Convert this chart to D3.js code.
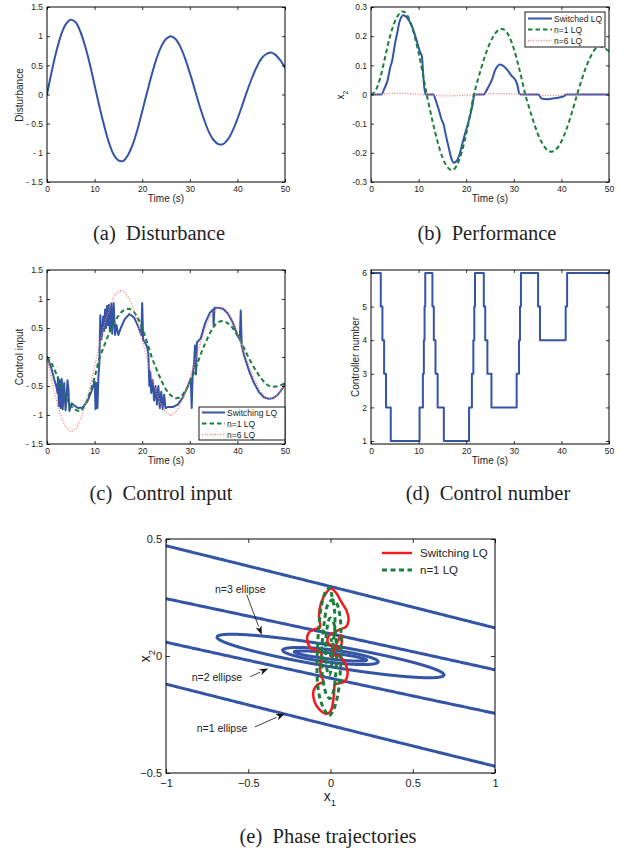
<!DOCTYPE html>
<html><head><meta charset="utf-8">
<script src="https://cdn.jsdelivr.net/npm/d3@7"></script>
<style>body{margin:0;background:#fff} svg{display:block;background:#fff}</style>
</head><body>
<svg id="fig" width="624" height="854"></svg>
<script>
// ---------------- DATA ----------------
// (a) Disturbance
const aTime = [0,1,2,3,4,5,6,7,8,9,10,11,12,13,14,15,16,17,18,19,20,21,22,23,24,25,26,27,28,29,30,31,32,33,34,35,36,37,38,39,40,41,42,43,44,45,46,47,48,49,50];
const aDisturbance = [0,0.40,0.75,1.03,1.21,1.28,1.24,1.08,0.83,0.52,0.16,-0.20,-0.53,-0.82,-1.03,-1.13,-1.14,-1.04,-0.86,-0.60,-0.29,0.03,0.34,0.61,0.82,0.95,1.00,0.95,0.82,0.62,0.37,0.10,-0.18,-0.43,-0.64,-0.78,-0.85,-0.85,-0.77,-0.62,-0.42,-0.19,0.05,0.27,0.46,0.61,0.69,0.72,0.68,0.59,0.46];

// (b) Performance x2
const bSwT = [0,2.2,2.8,3.5,4,4.5,5,5.5,6,6.8,7.5,8.6,9.5,10.2,10.7,11.0,11.4,13.1,13.6,14.2,14.8,15.3,15.6,16.3,16.9,17.4,18.0,18.6,19.4,20.2,21.0,21.4,21.7,23.7,24.3,24.8,25.4,26.0,26.6,27.2,27.9,28.6,29.5,30.3,30.8,31.1,31.4,35.2,35.8,37,38.5,39.5,40.5,41,50];
const bSwV = [0,0,0.02,0.05,0.09,0.12,0.17,0.21,0.25,0.272,0.265,0.234,0.19,0.15,0.13,0.06,0,0,-0.02,-0.05,-0.085,-0.105,-0.13,-0.18,-0.22,-0.234,-0.228,-0.205,-0.155,-0.11,-0.06,-0.03,0,0,0.015,0.03,0.05,0.08,0.097,0.103,0.097,0.085,0.065,0.05,0.03,0.005,0,0,-0.014,-0.016,-0.013,-0.01,-0.006,0,0];
const bN1T = [0,1,2,3,4,5,6,6.6,7,8,9,10,11,11.7,12,13,14,15,16,17,18,19,20,21,21.6,22,23,24,25,26,27,27.5,28,29,30,31,32,32.4,33,34,35,36,37,37.9,39,40,41,42,43,43.3,44,45,46,47,48,49,50];
const bN1V = [0,0.015,0.06,0.13,0.2,0.25,0.278,0.285,0.283,0.259,0.21,0.143,0.061,0,-0.023,-0.097,-0.163,-0.215,-0.248,-0.259,-0.244,-0.201,-0.135,-0.053,0,0.024,0.082,0.134,0.177,0.207,0.223,0.225,0.222,0.2,0.157,0.098,0.029,0,-0.033,-0.086,-0.133,-0.168,-0.19,-0.196,-0.186,-0.161,-0.122,-0.073,-0.017,0,0.037,0.086,0.126,0.154,0.166,0.16,0.148];
const bN6T = [0,3,6,9,12,15,18,21,24,27,30,33,36,39,42,45,48,50];
const bN6V = [0,0.003,0.004,0.002,-0.002,-0.005,-0.004,-0.001,0.002,0.003,0.002,-0.001,-0.003,-0.003,0,0.002,0.002,0.001];

// (c) Control input
const cSwT = [0,0.5,1,1.5,2,2.2,2.3,2.5,2.7,2.9,3.1,3.3,3.6,3.9,4.1,4.3,4.5,4.7,5.2,5.8,6.5,7.5,8.5,9.3,10,10.2,10.4,10.6,10.8,11.0,11.2,11.4,11.6,11.8,12.0,12.2,12.4,12.6,12.8,13.0,13.2,13.5,13.7,14.0,14.3,14.6,15.0,15.5,16.3,17.3,18.3,19.2,19.8,20.0,20.2,20.6,21.0,21.3,21.5,21.7,21.9,22.2,22.5,22.8,23.1,23.4,23.7,24.0,24.3,24.6,24.9,25.5,26.5,27.5,28.5,29.5,30.2,30.4,30.6,30.9,31.1,31.3,31.5,32.3,33.2,34.2,34.9,35.0,35.2,36,37,38,39,40,40.5,40.7,40.9,41.5,42.5,43.5,44.5,45.5,46.5,47.5,48.5,49.3,50];
const cSwV = [0,-0.1,-0.22,-0.38,-0.52,-0.62,-0.35,-0.85,-0.4,-0.88,-0.38,-0.9,-0.45,-0.92,-0.7,-0.4,-0.55,-0.93,-0.8,-0.84,-0.88,-0.87,-0.76,-0.6,-0.42,-0.9,-0.45,-0.88,-0.35,-0.1,0.72,0.3,0.4,0.7,0.45,0.82,0.5,0.88,0.55,0.9,0.45,0.92,0.4,0.93,0.38,0.55,0.38,0.5,0.65,0.74,0.68,0.52,0.38,0.93,0.3,0.25,0.18,0.05,-0.5,-0.25,-0.62,-0.4,-0.75,-0.5,-0.82,-0.5,-0.88,-0.6,-0.9,-0.65,-0.88,-0.86,-0.86,-0.82,-0.7,-0.52,-0.37,-0.88,-0.3,-0.1,0.2,-0.3,0.25,0.32,0.58,0.76,0.82,0.55,0.85,0.85,0.83,0.75,0.6,0.38,0.3,0.8,0.2,0.0,-0.25,-0.45,-0.6,-0.69,-0.72,-0.71,-0.65,-0.56,-0.47];
const cN1T = aTime;
const cN1V = [0,-0.12,-0.3,-0.5,-0.7,-0.84,-0.91,-0.93,-0.82,-0.62,-0.35,-0.03,0.19,0.40,0.57,0.71,0.80,0.83,0.80,0.68,0.50,0.26,0.0,-0.21,-0.40,-0.56,-0.66,-0.71,-0.69,-0.59,-0.44,-0.25,-0.02,0.19,0.37,0.52,0.60,0.62,0.58,0.50,0.37,0.22,0.05,-0.11,-0.25,-0.37,-0.46,-0.51,-0.51,-0.49,-0.45];
const cN6T = aTime;
const cN6V = [0,-0.40,-0.75,-1.03,-1.21,-1.28,-1.24,-1.08,-0.83,-0.52,-0.16,0.20,0.53,0.82,1.03,1.13,1.14,1.04,0.86,0.60,0.29,-0.03,-0.34,-0.61,-0.82,-0.95,-1.00,-0.95,-0.82,-0.62,-0.37,-0.10,0.18,0.43,0.64,0.78,0.85,0.85,0.77,0.62,0.42,0.19,-0.05,-0.27,-0.46,-0.61,-0.69,-0.72,-0.68,-0.59,-0.46];

// (d) Controller number (step after)
const dT = [0,2.05,2.4,2.75,3.15,4.15,10.2,10.9,11.1,11.25,11.4,12.9,13.2,13.55,14.0,15.3,20.6,21.2,21.5,21.7,21.85,23.7,24.0,24.45,25.3,30.6,31.1,31.3,31.5,35.1,35.5,40.9,41.2,50];
const dN = [6,5,4,3,2,1,2,3,4,5,6,5,4,3,2,1,2,3,4,5,6,5,4,3,2,3,4,5,6,5,4,5,6,6];

// (e) Phase trajectories: ellipses (half-extent in x1, centre-line slope, half-height at x1=0)
const ellipseNames = ["n=1","n=2","n=3","n=4","n=5"];
const ellipseXExtent = [10, 5, 0.69, 0.29, 0.22];
const ellipseSlope = [-0.1755, -0.152, -0.117, -0.085, -0.08];
const ellipseHalfHeight = [0.297, 0.095, 0.046, 0.027, 0.013];
const eSwX1 = [0,0.048,0.088,0.104,0.084,0.027,0.023,0.017,0.003,-0.023,-0.070,-0.100,-0.104,-0.078,-0.044,-0.058,-0.064,-0.050,-0.070,-0.114,-0.141,-0.131,-0.090,-0.064,-0.070,-0.058,-0.023,0.003,0.031,0.064,0.098,0.110,0.092,0.058,0.027,-0.009,-0.017,0.011,0.044,0.068,0.064,0.017,0];
const eSwX2 = [0,0.001,-0.031,-0.074,-0.110,-0.122,-0.146,-0.189,-0.232,-0.247,-0.227,-0.189,-0.150,-0.122,-0.110,-0.082,-0.039,-0.003,0.021,0.030,0.064,0.100,0.116,0.122,0.169,0.226,0.273,0.288,0.273,0.233,0.193,0.155,0.123,0.114,0.102,0.087,0.059,0.040,0.030,0.054,0.090,0.019,0];
const eN1X1 = [0,0.017,0.027,0.023,0.007,-0.003,-0.029,-0.054,-0.070,-0.078,-0.082,-0.078,-0.058,-0.029,-0.009,0.017,0.044,0.058,0.064,0.064,0.058,0.037,0.011,-0.017,-0.037,-0.050,-0.054,-0.044,-0.023,-0.003,0.017,0.031,0.037,0.031,0.017,-0.003,-0.021,-0.029,-0.023,-0.007,0.007,0.011,0.003];
const eN1X2 = [0,0.062,0.133,0.205,0.262,0.293,0.276,0.219,0.133,0.047,-0.039,-0.124,-0.196,-0.239,-0.256,-0.232,-0.167,-0.082,0.004,0.090,0.169,0.226,0.240,0.219,0.147,0.062,-0.024,-0.110,-0.167,-0.182,-0.153,-0.082,0.004,0.090,0.147,0.162,0.119,0.033,-0.053,-0.082,-0.039,0.033,0.076];

// tick labels
const tTicks = [0,10,20,30,40,50];
const tTickLabels = ["0","10","20","30","40","50"];
const aYTicks = [-1.5,-1,-0.5,0,0.5,1,1.5];
const aYTickLabels = ["- 1.5","- 1","- 0.5","0","0.5","1","1.5"];
const bYTicks = [-0.3,-0.2,-0.1,0,0.1,0.2,0.3];
const bYTickLabels = ["-0.3","-0.2","-0.1","0","0.1","0.2","0.3"];
const dYTicks = [1,2,3,4,5,6];
const dYTickLabels = ["1","2","3","4","5","6"];
const eXTicks = [-1,-0.5,0,0.5,1];
const eXTickLabels = ["\u22121","\u22120.5","0","0.5","1"];
const eYTicks = [-0.5,0,0.5];
const eYTickLabels = ["\u22120.5","0","0.5"];

// ---------------- DRAW ----------------
const BLUE = "#3454a6", GREEN = "#1a7f3c", PINK = "#ff7a7a", RED = "#ee1c1c";
const SANS = "'Liberation Sans', Arial, Helvetica, sans-serif";
const SERIF = "'Liberation Serif', 'Times New Roman', serif";
const svg = d3.select("#fig");
svg.append("rect").attr("width",624).attr("height",854).attr("fill","#fff");
let clipN = 0;

function panel(b, xd, yd, xt, xl, yt, yl, o) {
  const x = d3.scaleLinear().domain(xd).range([b.x0, b.x1]);
  const y = d3.scaleLinear().domain(yd).range([b.y1, b.y0]);
  const g = svg.append("g");
  const id = "clip" + (clipN++);
  svg.append("clipPath").attr("id", id).append("rect")
    .attr("x", b.x0).attr("y", b.y0).attr("width", b.x1 - b.x0).attr("height", b.y1 - b.y0);
  const plot = g.append("g").attr("clip-path", `url(#${id})`);
  const ax = g.append("g");
  const style = sel => {
    sel.select(".domain").remove();
    sel.selectAll(".tick line").attr("stroke", "#000").attr("stroke-width", 0.8);
    sel.selectAll(".tick text").attr("font-family", SANS).attr("font-size", o.fs).attr("fill", "#222");
  };
  ax.append("g").attr("transform", `translate(0,${b.y1})`)
    .call(d3.axisBottom(x).tickValues(xt).tickFormat((d, i) => xl[i]).tickSizeInner(-o.tl).tickSizeOuter(0).tickPadding(o.px)).call(style);
  ax.append("g").attr("transform", `translate(0,${b.y0})`)
    .call(d3.axisTop(x).tickValues(xt).tickFormat("").tickSizeInner(-o.tl).tickSizeOuter(0)).call(style);
  ax.append("g").attr("transform", `translate(${b.x0},0)`)
    .call(d3.axisLeft(y).tickValues(yt).tickFormat((d, i) => yl[i]).tickSizeInner(-o.tl).tickSizeOuter(0).tickPadding(o.py)).call(style);
  ax.append("g").attr("transform", `translate(${b.x1},0)`)
    .call(d3.axisRight(y).tickValues(yt).tickFormat("").tickSizeInner(-o.tl).tickSizeOuter(0)).call(style);
  ax.append("rect").attr("x", b.x0).attr("y", b.y0).attr("width", b.x1 - b.x0).attr("height", b.y1 - b.y0)
    .attr("fill", "none").attr("stroke", "#000").attr("stroke-width", o.bw || 1);
  return {x, y, plot, g, b};
}

function drawLine(p, xs, ys, color, w, dash, curve) {
  const line = d3.line().x(i => p.x(xs[i])).y(i => p.y(ys[i])).curve(curve || d3.curveLinear);
  const path = p.plot.append("path").attr("d", line(d3.range(xs.length)))
    .attr("fill", "none").attr("stroke", color).attr("stroke-width", w)
    .attr("stroke-linejoin", "round").attr("stroke-linecap", dash ? "butt" : "round");
  if (dash) path.attr("stroke-dasharray", dash);
  return path;
}

function label(txt, x, y, size, rot, sub, family) {
  const t = svg.append("text").attr("font-family", family || SANS).attr("font-size", size)
    .attr("fill", "#222").attr("text-anchor", "middle");
  if (rot) t.attr("transform", `translate(${x},${y}) rotate(-90)`); else t.attr("x", x).attr("y", y);
  t.append("tspan").text(txt);
  if (sub) t.append("tspan").attr("font-size", size * 0.68).attr("dy", size * 0.35).text(sub);
  return t;
}

function caption(txt, cx, y) {
  svg.append("text").attr("x", cx).attr("y", y).attr("text-anchor", "middle")
    .attr("font-family", SERIF).attr("font-size", 20.5).attr("fill", "#222").attr("xml:space","preserve").text(txt);
}

function legend(x0, y0, w, h, rows, fs, box) {
  const g = svg.append("g");
  if (box) g.append("rect").attr("x", x0).attr("y", y0).attr("width", w).attr("height", h)
    .attr("fill", "#fff").attr("stroke", "#000").attr("stroke-width", 0.9);
  rows.forEach(r => {
    const l = g.append("line").attr("x1", r.lx0).attr("x2", r.lx1).attr("y1", r.y).attr("y2", r.y)
      .attr("stroke", r.color).attr("stroke-width", r.w);
    if (r.dash) l.attr("stroke-dasharray", r.dash);
    g.append("text").attr("x", r.tx).attr("y", r.y + fs * 0.36).attr("font-family", SANS)
      .attr("font-size", fs).attr("fill", "#222").text(r.text);
  });
}

const smallOpts = {fs: 8.5, tl: 3, px: 4, py: 4};

// (a)
const pa = panel({x0: 47, x1: 285, y0: 7, y1: 182}, [0, 50], [-1.5, 1.5], tTicks, tTickLabels, aYTicks, aYTickLabels, smallOpts);
drawLine(pa, aTime, aDisturbance, BLUE, 2, null, d3.curveCatmullRom);
label("Time (s)", 166, 202, 10);
label("Disturbance", 23, 95, 10, true);
caption("(a)  Disturbance", 159, 240);

// (b)
const pb = panel({x0: 371, x1: 609, y0: 7, y1: 182}, [0, 50], [-0.3, 0.3], tTicks, tTickLabels, bYTicks, bYTickLabels, smallOpts);
drawLine(pb, bSwT, bSwV, BLUE, 2, null, d3.curveMonotoneX);
drawLine(pb, bN1T, bN1V, GREEN, 2, "4.5,3", d3.curveMonotoneX);
drawLine(pb, bN6T, bN6V, PINK, 1.3, "1,1.6", d3.curveMonotoneX);
label("Time (s)", 490, 202, 10);
label("x", 344, 95, 10, true, "2");
caption("(b)  Performance", 487, 240);
legend(525, 12, 80, 35, [
  {lx0: 528, lx1: 552, y: 18.5, color: BLUE, w: 2, text: "Switched LQ", tx: 554},
  {lx0: 528, lx1: 552, y: 29.5, color: GREEN, w: 2, dash: "4.5,3", text: "n=1 LQ", tx: 554},
  {lx0: 528, lx1: 552, y: 40.5, color: PINK, w: 1.3, dash: "1,1.6", text: "n=6 LQ", tx: 554}
], 8.5, true);

// (c)
const pc = panel({x0: 47, x1: 285, y0: 270, y1: 444}, [0, 50], [-1.5, 1.5], tTicks, tTickLabels, aYTicks, aYTickLabels, smallOpts);
drawLine(pc, cSwT, cSwV, BLUE, 2, null, d3.curveLinear);
drawLine(pc, cN1T, cN1V, GREEN, 2, "4.5,3", d3.curveCatmullRom);
drawLine(pc, cN6T, cN6V, PINK, 1.3, "1,1.6", d3.curveCatmullRom);
label("Time (s)", 166, 464, 10);
label("Control input", 23, 357, 10, true);
caption("(c)  Control input", 161, 500);
legend(199, 407, 86, 33, [
  {lx0: 202, lx1: 225, y: 412.5, color: BLUE, w: 2, text: "Switching LQ", tx: 227},
  {lx0: 202, lx1: 225, y: 423.5, color: GREEN, w: 2, dash: "4.5,3", text: "n=1 LQ", tx: 227},
  {lx0: 202, lx1: 225, y: 434.5, color: PINK, w: 1.3, dash: "1,1.6", text: "n=6 LQ", tx: 227}
], 8.5, true);

// (d)
const pd = panel({x0: 371, x1: 609, y0: 270, y1: 444}, [0, 50], [0.911, 6.089], tTicks, tTickLabels, dYTicks, dYTickLabels, smallOpts);
drawLine(pd, dT, dN, BLUE, 2, null, d3.curveStepAfter);
label("Time (s)", 490, 464, 10);
label("Controller number", 359, 357, 10, true);
caption("(d)  Control number", 488, 500);

// (e)
const pe = panel({x0: 166, x1: 495, y0: 539, y1: 773}, [-1, 1], [-0.5, 0.5], eXTicks, eXTickLabels, eYTicks, eYTickLabels, {fs: 11, tl: 4, px: 6, py: 4});
const theta = d3.range(0, 4001).map(k => k / 4000 * 2 * Math.PI);
ellipseXExtent.forEach((X, i) => {
  const ex = theta.map(t => X * Math.cos(t));
  const ey = theta.map(t => ellipseSlope[i] * X * Math.cos(t) + ellipseHalfHeight[i] * Math.sin(t));
  drawLine(pe, ex, ey, BLUE, 3, null, d3.curveLinear);
});
drawLine(pe, eSwX1, eSwX2, RED, 2.5, null, d3.curveCatmullRom);
drawLine(pe, eN1X1, eN1X2, GREEN, 3, "5,3.5", d3.curveCatmullRom);
label("x", 330, 801, 14, false, "1");
label("x", 150, 656, 14, true, "2");
caption("(e)  Phase trajectories", 328, 843);
legend(0, 0, 0, 0, [
  {lx0: 382, lx1: 412, y: 553, color: RED, w: 2.5, text: "Switching LQ", tx: 420},
  {lx0: 382, lx1: 412, y: 570, color: GREEN, w: 3, dash: "5,3.5", text: "n=1 LQ", tx: 420}
], 11.5, false);

// annotations (data coordinates)
const annText = ["n=3 ellipse", "n=2 ellipse", "n=1 ellipse"];
const annTextX = [-0.702, -0.844, -0.813];
const annTextY = [0.27, -0.107, -0.326];
const annTailX = [-0.509, -0.489, -0.459];
const annTailY = [0.262, -0.089, -0.303];
const annHeadX = [-0.418, -0.378, -0.277];
const annHeadY = [0.09, -0.053, -0.246];
annText.forEach((t, i) => {
  svg.append("text").attr("x", pe.x(annTextX[i])).attr("y", pe.y(annTextY[i]))
    .attr("font-family", SANS).attr("font-size", 10.5).attr("fill", "#222").text(t);
  const x1 = pe.x(annTailX[i]), y1 = pe.y(annTailY[i]), x2 = pe.x(annHeadX[i]), y2 = pe.y(annHeadY[i]);
  const ang = Math.atan2(y2 - y1, x2 - x1), L = 9, W = 3.2;
  const bx = x2 - L * Math.cos(ang), by = y2 - L * Math.sin(ang);
  svg.append("line").attr("x1", x1).attr("y1", y1).attr("x2", bx).attr("y2", by)
    .attr("stroke", "#111").attr("stroke-width", 0.8);
  const p1 = [bx + W * Math.sin(ang), by - W * Math.cos(ang)], p2 = [bx - W * Math.sin(ang), by + W * Math.cos(ang)];
  svg.append("path").attr("d", `M${x2},${y2}L${p1[0]},${p1[1]}L${bx + 2.5*Math.cos(ang)},${by + 2.5*Math.sin(ang)}L${p2[0]},${p2[1]}Z`).attr("fill", "#111");
});
</script>
</body></html>
